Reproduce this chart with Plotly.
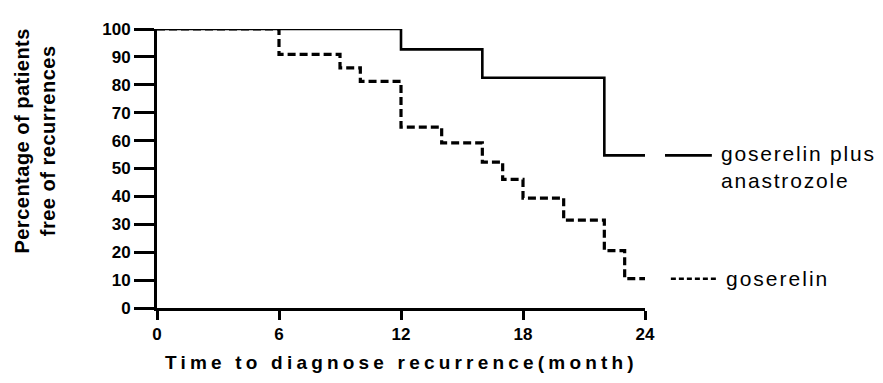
import plotly.graph_objects as go

# Kaplan-Meier step data (months, % free of recurrence)
combo_t = [0, 12, 16, 22, 24]
combo_s = [100, 92.7, 82.5, 54.7, 54.7]

gos_t = [0, 6, 9, 10, 12, 14, 16, 17, 18, 20, 22, 23, 24]
gos_s = [100, 90.9, 86.1, 81.2, 64.8, 59.2, 52.3, 46.1, 39.4, 31.5, 20.6, 10.5, 10.5]

x_ticks = [0, 6, 12, 18, 24]
y_ticks = [0, 10, 20, 30, 40, 50, 60, 70, 80, 90, 100]

label_combo = "goserelin plus<br>anastrozole"
label_gos = "goserelin"

FONT = "Liberation Sans, Arial, sans-serif"

def spaced(text, px):
    parts = text.split("<br>")
    return "<br>".join('<span style="letter-spacing:%spx">%s</span>' % (px, p) for p in parts)

fig = go.Figure()
fig.add_trace(go.Scatter(x=gos_t, y=gos_s, mode="lines", line_shape="hv",
                         line=dict(color="black", width=3.2, dash="8px,4px"), cliponaxis=False,
                         showlegend=False, hoverinfo="skip"))
fig.add_trace(go.Scatter(x=combo_t, y=combo_s, mode="lines", line_shape="hv",
                         line=dict(color="black", width=2.6), cliponaxis=False,
                         showlegend=False, hoverinfo="skip"))

# Legend samples placed beside the curve ends
fig.add_shape(type="line", xref="paper", yref="y", x0=1.041, x1=1.137,
              y0=combo_s[-1], y1=combo_s[-1], line=dict(color="black", width=2.6))
fig.add_shape(type="line", xref="paper", yref="y", x0=1.053, x1=1.148,
              y0=gos_s[-1], y1=gos_s[-1], line=dict(color="black", width=2.6, dash="5px,3px"))
fig.add_annotation(xref="paper", yref="y", x=1.152, y=combo_s[-1], yshift=-12,
                   text=spaced(label_combo, 1.8),
                   showarrow=False, xanchor="left", yanchor="middle",
                   align="left", font=dict(family=FONT, size=21, color="black"))
fig.add_annotation(xref="paper", yref="y", x=1.161, y=gos_s[-1],
                   text=spaced(label_gos, 2),
                   showarrow=False, xanchor="left", yanchor="middle",
                   align="left", font=dict(family=FONT, size=21, color="black"))

# Axis titles
fig.add_annotation(xref="paper", yref="paper", x=0.5, y=-0.195, yanchor="middle",
                   text=spaced("Time to diagnose recurrence(month)", 4.2),
                   showarrow=False, font=dict(family=FONT, size=19, color="black", weight="bold"))
fig.add_annotation(xref="paper", yref="paper", x=-0.25, y=0.6, xanchor="center", yanchor="middle",
                   textangle=-90,
                   text=spaced("Percentage of patients<br>free of recurrences", 0.5),
                   showarrow=False, font=dict(family=FONT, size=20, color="black", weight="bold"))

fig.update_xaxes(range=[0, 24], tickvals=x_ticks, ticktext=[str(v) for v in x_ticks],
                 showgrid=False, zeroline=False, showline=True, linecolor="black", linewidth=3,
                 ticks="outside", ticklen=9, tickwidth=3, tickcolor="black",
                 tickfont=dict(family=FONT, size=17, color="black", weight="bold"))
fig.update_yaxes(range=[0, 100], tickvals=y_ticks, ticktext=[str(v) for v in y_ticks],
                 showgrid=False, zeroline=False, showline=True, linecolor="black", linewidth=3,
                 ticks="outside", ticklen=20, tickwidth=3, tickcolor="black",
                 tickfont=dict(family=FONT, size=17, color="black", weight="bold"))

fig.update_layout(width=883, height=383, margin=dict(l=149, r=246, t=13, b=83),
                  plot_bgcolor="white", paper_bgcolor="white", showlegend=False)

fig.write_html("out.html")
